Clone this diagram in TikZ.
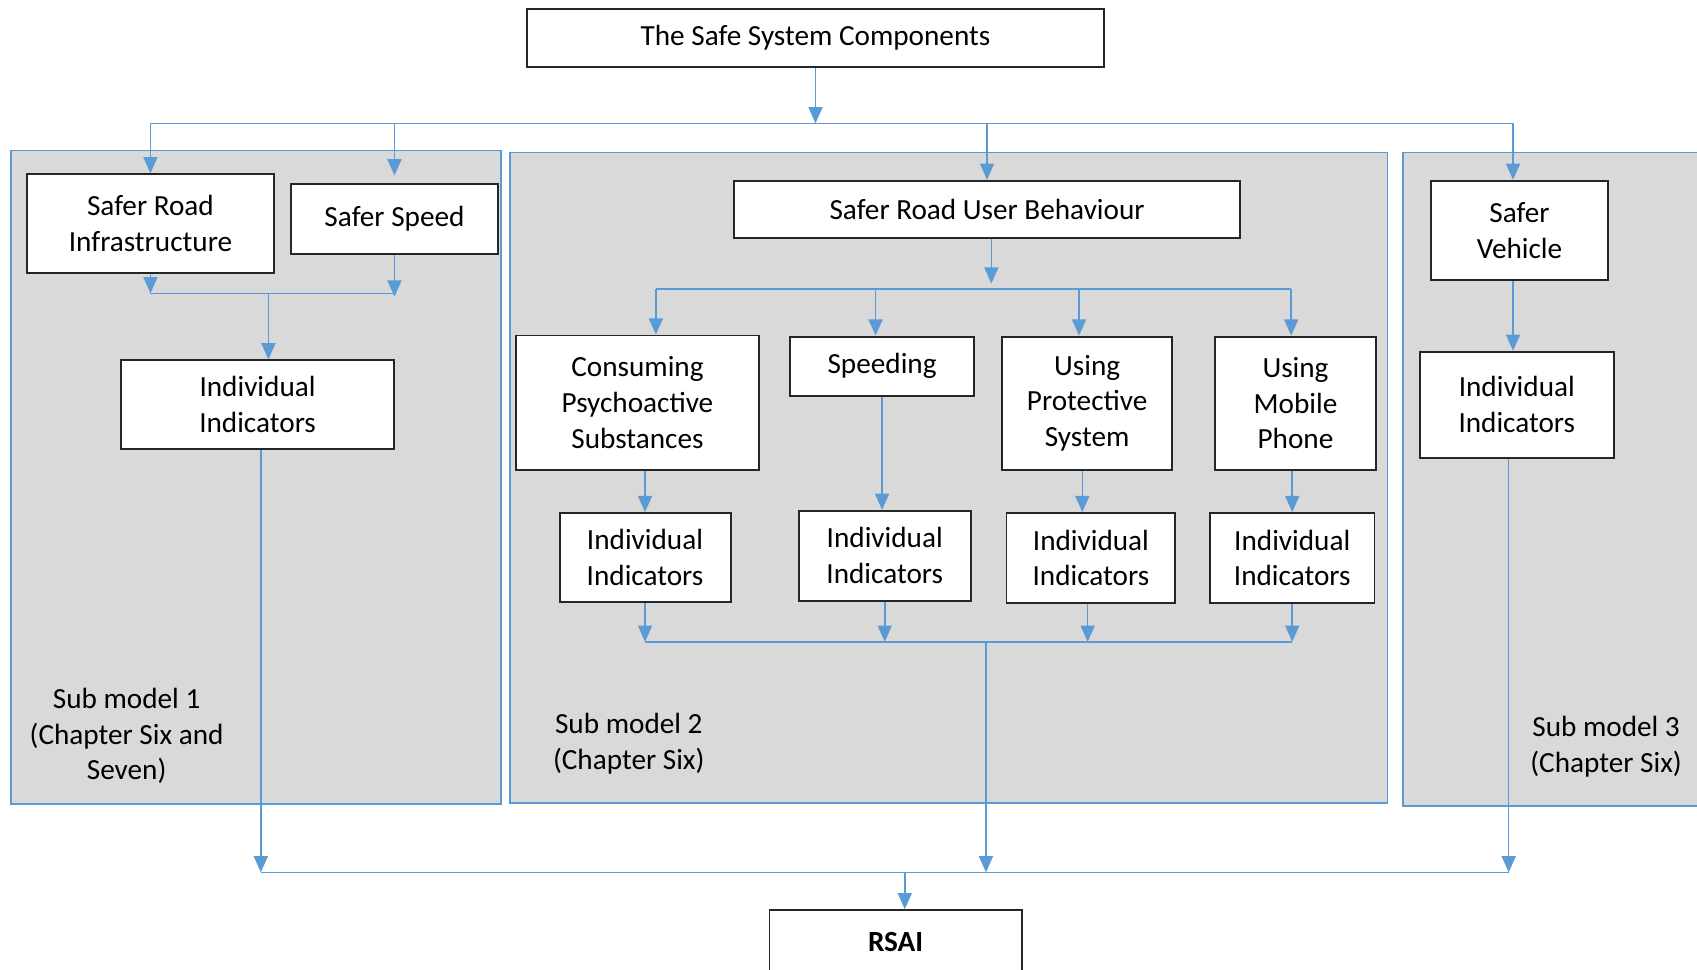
\documentclass[tikz,border=0pt]{standalone}
\usepackage{fontspec}
\setmainfont{Carlito}
\usetikzlibrary{arrows.meta}
\definecolor{lblue}{HTML}{5B9BD5}
\definecolor{pgray}{HTML}{D9D9D9}
\tikzset{
  blk/.style={draw=black!85, fill=white, line width=0.9pt, inner sep=0pt, align=center, font=\fontsize{13.5pt}{16.5pt}\selectfont},
  lbl/.style={inner sep=0pt, align=center, font=\fontsize{13.5pt}{16.5pt}\selectfont},
  panel/.style={draw=lblue, fill=pgray, line width=0.8pt},
  bus/.style={draw=lblue, line width=0.7pt},
  arr/.style={draw=lblue, line width=0.7pt, -{Triangle[width=6.5pt,length=7.5pt]}, color=lblue}
}
\begin{document}
\begin{tikzpicture}[x=0.5pt,y=-0.5pt]
\useasboundingbox (0,0) rectangle (1568,896);
\clip (0,0) rectangle (1568,896);
% panels
\path[panel] (10,139) rectangle (463,743);
\path[panel] (471,141) rectangle (1282,742);
\path[panel] (1296,141) rectangle (1580,745);
% labels
\node[lbl] (sm1) at (117,680) {Sub model 1\\(Chapter Six and\\Seven)};
\node[lbl] (sm2) at (581,687) {Sub model 2\\(Chapter Six)};
\node[lbl] (sm3) at (1484,690) {Sub model 3\\(Chapter Six)};
% boxes
\node[blk, minimum width=266.5pt, minimum height=27pt] (top) at (753.5,35) {The Safe System Components};
\node[blk, minimum width=114pt, minimum height=45.5pt] (sri) at (139,206.5) {Safer Road\\Infrastructure};
\node[blk, minimum width=95.5pt, minimum height=32.5pt] (ss) at (364.5,202.5) {Safer Speed};
\node[blk, minimum width=126pt, minimum height=41pt] (ii1) at (238,374) {Individual\\Indicators};
\node[blk, minimum width=234pt, minimum height=26.5pt] (srub) at (912,193.5) {Safer Road User Behaviour};
\node[blk, minimum width=112pt, minimum height=62pt] (cps) at (589,372) {Consuming\\Psychoactive\\Substances};
\node[blk, minimum width=85pt, minimum height=27.5pt] (sp) at (815,338.5) {Speeding};
\node[blk, minimum width=78.5pt, minimum height=61.5pt] (ups) at (1004.5,372.5) {Using\\Protective\\System};
\node[blk, minimum width=74pt, minimum height=61.5pt] (ump) at (1197,372.5) {Using\\Mobile\\Phone};
\node[blk, minimum width=79pt, minimum height=41pt] (iia) at (596,515) {Individual\\Indicators};
\node[blk, minimum width=79.5pt, minimum height=41.5pt] (iib) at (817.5,513.5) {Individual\\Indicators};
\node[blk, minimum width=78pt, minimum height=41.5pt] (iic) at (1008,515.5) {Individual\\Indicators};
\node[blk, minimum width=76pt, minimum height=41.5pt] (iid) at (1194,515.5) {Individual\\Indicators};
\node[blk, minimum width=82pt, minimum height=46pt] (sv) at (1404,213) {Safer\\Vehicle};
\node[blk, minimum width=89.5pt, minimum height=49pt] (ii3) at (1401.5,374) {Individual\\Indicators};
\node[blk, minimum width=116.5pt, minimum height=29pt] (rsai) at (827.5,870) {\textbf{RSAI}};
% bus coordinates
\coordinate (b1L) at (139,114);
\coordinate (b1R) at (1398,114);
\coordinate (j1) at (248,271);
\coordinate (b2M) at (916,262);
\coordinate (b2L) at (606,267);
\coordinate (b2R) at (1193,267);
\coordinate (b2S) at (809,267);
\coordinate (b2U) at (997,267);
\coordinate (c3) at (1000,474);
\coordinate (c4) at (1005,593);
\coordinate (b4L) at (596,593);
\coordinate (b4R) at (1194,593);
\coordinate (j2) at (911,593);
\coordinate (b3L) at (241,806);
\coordinate (b3R) at (1394,806);
\coordinate (b3M) at (836,806);
% top level
\draw[arr] (top.south) -- (top.south |- b1L);
\draw[bus] (b1L) -- (b1R);
\draw[arr] (b1L) -- (b1L |- sri.north);
\draw[arr] (ss.north |- b1L) -- ([yshift=3.5pt]ss.north);
\draw[arr] (srub.north |- b1L) -- (srub.north);
\draw[arr] (b1R) -- (b1R |- sv.north);
% panel 1
\draw[arr] (sri.south) -- (sri.south |- j1);
\draw[arr] (ss.south) -- ([yshift=-1.5pt]ss.south |- j1);
\draw[bus] (sri.south |- j1) -- (ss.south |- j1);
\draw[arr] (j1) -- (j1 |- ii1.north);
\draw[arr] (ii1.south -| b3L) -- (b3L);
% panel 2
\draw[arr] (srub.south -| b2M) -- (b2M);
\draw[bus] (b2L) -- (b2R);
\draw[arr] (b2L) -- (b2L |- cps.north);
\draw[arr] (b2S) -- (b2S |- sp.north);
\draw[arr] (b2U) -- (b2U |- ups.north);
\draw[arr] (b2R) -- (b2R |- ump.north);
\draw[arr] (iia.north |- cps.south) -- (iia.north);
\draw[arr] (sp.south) -- (sp.south |- iib.north);
\draw[arr] (ups.south -| c3) -- (c3 |- iic.north);
\draw[arr] (iid.north |- ump.south) -- (iid.north);
\draw[arr] (iia.south) -- (iia.south |- b4L);
\draw[arr] (iib.south) -- (iib.south |- b4L);
\draw[arr] (iic.south -| c4) -- (c4);
\draw[arr] (iid.south) -- (iid.south |- b4L);
\draw[bus] (b4L) -- (b4R);
\draw[arr] (j2) -- (j2 |- b3L);
% panel 3
\draw[arr] (sv.south -| b1R) -- (b1R |- ii3.north);
\draw[arr] (ii3.south -| b3R) -- (b3R);
% bottom
\draw[bus] (b3L) -- (b3R);
\draw[arr] (b3M) -- (b3M |- rsai.north);
\end{tikzpicture}
\end{document}
